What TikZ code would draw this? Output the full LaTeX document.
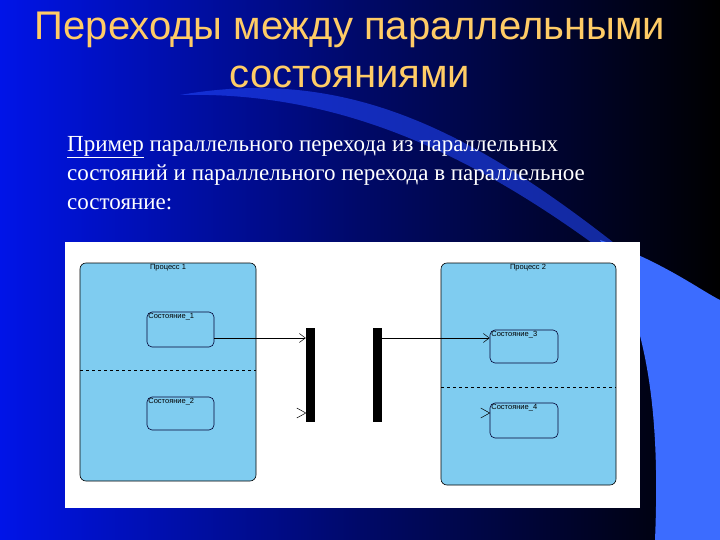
\documentclass[tikz,border=0pt]{standalone}
\usepackage{fontspec}
\setmainfont{Liberation Serif}
\newfontfamily\arialf{Liberation Sans}
\usetikzlibrary{arrows.meta,calc}
\definecolor{bgblue}{HTML}{0014E8}
\definecolor{swoosh}{HTML}{3C6CFF}
\definecolor{titlec}{HTML}{FFCC66}
\definecolor{procfill}{HTML}{7FCCF0}
\begin{document}
\begin{tikzpicture}[x=1pt,y=-1pt,
  proc/.style={draw=black,fill=procfill,rounded corners=6pt,line width=0.6pt},
  stbox/.style={draw=black!80!blue,rounded corners=5pt,line width=0.6pt},
  small/.style={font=\arialf\fontsize{7.5}{8}\selectfont,inner sep=1.5pt},
  bar/.style={fill=black},
  conn/.style={-{Straight Barb[length=6pt,width=9pt]},line width=0.5pt},
  chev/.style={line width=0.5pt}]
\useasboundingbox (0,0) rectangle (720,540);
\shade[left color=bgblue,right color=black,middle color=bgblue!45!black] (0,0) rectangle (720,540);
% swooshes
\fill[swoosh!55!bgblue,opacity=0.6] (180,95) .. controls (380,60) and (520,160) .. (720,330) -- (720,345) .. controls (540,190) and (380,90) .. (180,95) -- cycle;
\fill[swoosh] (600,240) .. controls (660,260) and (700,290) .. (720,300) -- (720,540) -- (655,540) .. controls (660,420) and (650,320) .. (600,240) -- cycle;
% title
\node[font=\arialf\fontsize{40}{44}\selectfont,text=titlec] (t1) at (350,30) {Переходы между параллельными};
\node[font=\arialf\fontsize{40}{44}\selectfont,text=titlec] (t2) at (350,77) {состояниями};
% body
\node[font=\fontsize{23}{29}\selectfont,text=white,anchor=north west,align=left,inner sep=0pt] (body) at (67,136)
 {\underline{Пример} параллельного перехода из параллельных\\состояний и параллельного перехода в параллельное\\состояние:};
% panel
\fill[white] (65,242) rectangle (640,508);
% process 1
\draw[proc] (80,263) rectangle (256,481);
\node[small,anchor=north] (p1) at (168,263) {Процесс 1};
\draw[dashed,line width=0.5pt] (80,370) -- (256,370);
\node[stbox,minimum width=67pt,minimum height=35pt] (s1) at (180.5,329.5) {};
\node[small,anchor=north west] at (s1.north west) {Состояние\_1};
\node[stbox,minimum width=67pt,minimum height=33pt] (s2) at (180.5,413.5) {};
\node[small,anchor=north west] at (s2.north west) {Состояние\_2};
% process 2
\draw[proc] (441,263) rectangle (616,485);
\node[small,anchor=north] (p2) at (528,263) {Процесс 2};
\draw[dashed,line width=0.5pt] (441,387) -- (616,387);
\node[stbox,minimum width=68pt,minimum height=33pt] (s3) at (524,346.5) {};
\node[small,anchor=north west] at (s3.north west) {Состояние\_3};
\node[stbox,minimum width=68pt,minimum height=35pt] (s4) at (524,420.5) {};
\node[small,anchor=north west] at (s4.north west) {Состояние\_4};
% bars
\node[bar,minimum width=9pt,minimum height=94pt,inner sep=0pt] (b1) at (310.5,375) {};
\node[bar,minimum width=9pt,minimum height=94pt,inner sep=0pt] (b2) at (377.5,375) {};
% connectors
\draw[conn] (s1.east |- 0,338) -- (b1.west |- 0,338);
\draw[conn] (b2.east |- 0,338) -- (s3.west |- 0,338);
\coordinate (a2) at (b1.west |- 0,413);
\coordinate (a4) at (s4.west |- 0,413);
\draw[chev] ($(a2)+(-9,-5)$) -- (a2) -- ($(a2)+(-9,5)$);
\draw[chev] ($(a4)+(-9,-5)$) -- (a4) -- ($(a4)+(-9,5)$);
\end{tikzpicture}
\end{document}
